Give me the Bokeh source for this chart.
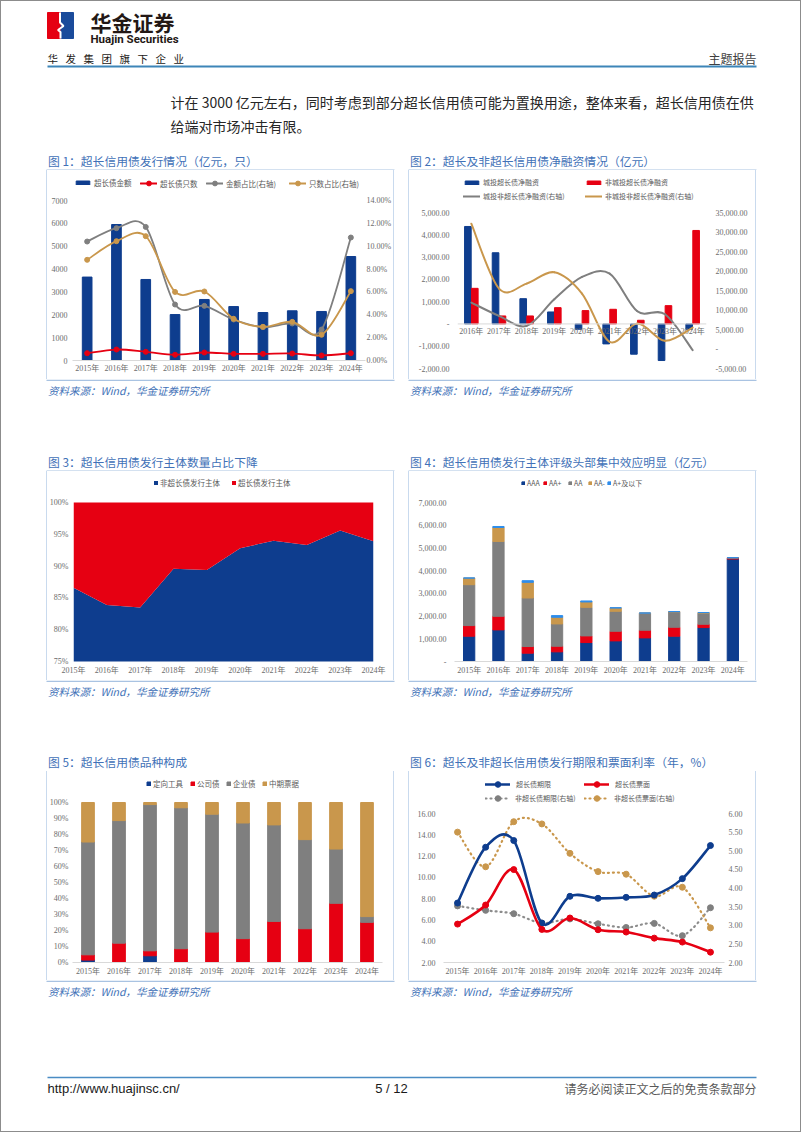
from bokeh.plotting import figure
from bokeh.models import (Range1d, LinearAxis, FixedTicker, PrintfTickFormatter, Span,
                          NumeralTickFormatter, Legend, LegendItem, ColumnDataSource, Spacer)
from bokeh.layouts import column, row
from bokeh.core.properties import value
from bokeh.embed import file_html
from bokeh.resources import INLINE

# ---------------- data ----------------
years = ["2015年", "2016年", "2017年", "2018年", "2019年", "2020年", "2021年", "2022年", "2023年", "2024年"]
years_c2 = ["2016年", "2017年", "2018年", "2019年", "2020年", "2021年", "2022年", "2023年", "2024年"]

# chart 1
c1_amount = [3650, 5950, 3545, 2010, 2670, 2360, 2100, 2175, 2145, 4550]
c1_count = [320, 480, 380, 250, 350, 290, 290, 305, 220, 320]
c1_amt_share = [10.41, 11.58, 11.69, 4.90, 4.78, 3.59, 2.92, 3.24, 2.71, 10.76]
c1_cnt_share = [8.81, 10.44, 10.88, 6.00, 6.04, 3.65, 2.95, 3.38, 2.25, 6.07]

# chart 2
c2_lgfv_long = [4373, 3194, 1134, 537, -239, -896, -1358, -1642, -239]
c2_non_lgfv_long = [1597, 358, 358, 731, 597, 657, 164, 821, 4194]
c2_lgfv_short = [11900, 8490, 5930, 12760, 18470, 19330, 9680, 8920, -300]
c2_non_lgfv_short = [32120, 15490, 16770, 19670, 14210, 1830, 6530, 2090, 5500]

# chart 3 (share of issuers, %)
c3_non_long = [86.6, 83.9, 83.5, 89.6, 89.4, 92.8, 94.0, 93.3, 95.6, 93.9]
c3_long = [13.4, 16.1, 16.5, 10.4, 10.6, 7.2, 6.0, 6.7, 4.4, 6.1]

# chart 4 (rating, 亿元)
c4_aaa = [1113, 1391, 366, 425, 834, 908, 1040, 1113, 1493, 4510]
c4_aap = [468, 600, 293, 248, 293, 424, 336, 395, 147, 50]
c4_aa = [1801, 3295, 2137, 981, 1259, 879, 747, 674, 483, 8]
c4_aam = [293, 614, 689, 293, 235, 146, 10, 14, 29, 0]
c4_ap = [0, 44, 73, 73, 44, 10, 0, 0, 0, 0]

# chart 5 (type share, %)
c5_ppn = [1.5, 0, 4.2, 0, 0, 0, 0, 0, 0, 0]
c5_corp = [3.3, 12.1, 3.1, 8.6, 19.0, 14.9, 25.7, 21.1, 37.0, 25.1]
c5_ent = [70.5, 76.6, 91.4, 88.1, 73.7, 72.3, 60.3, 55.7, 33.9, 3.6]
c5_mtn = [24.7, 11.3, 1.3, 3.3, 7.3, 12.8, 14.0, 23.2, 29.1, 71.3]

# chart 6
c6_long_tenor = [7.59, 12.83, 13.46, 5.70, 8.22, 8.03, 8.12, 8.34, 9.88, 12.99]
c6_long_coupon = [5.61, 7.40, 10.73, 5.11, 6.18, 5.08, 4.86, 4.29, 3.92, 2.97]
c6_short_tenor = [3.52, 3.40, 3.31, 3.06, 3.17, 3.04, 2.94, 3.05, 2.72, 3.47]
c6_short_coupon = [5.50, 4.57, 5.78, 5.72, 4.93, 4.44, 4.37, 3.78, 4.02, 2.93]

titles = ["图 1：超长信用债发行情况（亿元，只）",
          "图 2：超长及非超长信用债净融资情况（亿元）",
          "图 3：超长信用债发行主体数量占比下降",
          "图 4：超长信用债发行主体评级头部集中效应明显（亿元）",
          "图 5：超长信用债品种构成",
          "图 6：超长及非超长信用债发行期限和票面利率（年，%）"]
SOURCE = "资料来源：Wind，华金证券研究所"

# ---------------- styles ----------------
CJK = "Noto Sans CJK SC"
TICKF = "Liberation Serif, Noto Sans CJK SC"
NAVY = "#0E3D8E"
RED = "#E60012"
GRAY = "#7F7F7F"
GOLD = "#C9974C"
LBLUE = "#2E8DEB"
TITLE_BLUE = "#4171B7"
BOX = "#A9C3E2"
BOX_SIDE = "#C9DAEE"
TICK_COLOR = "#6B6B6B"
LEG_COLOR = "#595959"
PW, PH = 348, 209
PAGE_W = 801
LX, RX = 46, 408


def strip(h, y0):
    p = figure(width=PAGE_W, height=h, x_range=Range1d(0, PAGE_W), y_range=Range1d(y0 + h, y0),
               x_axis_type=None, y_axis_type=None, output_backend="svg", toolbar_location=None,
               min_border=0, outline_line_color=None, border_fill_color=None,
               background_fill_color=None)
    return p


def txt(p, x, y, s, size, color, font=CJK, align="left", style="normal"):
    p.text(x=[x], y=[y], text=[s], text_font=value(font), text_font_size=size,
           text_color=color, text_align=align, text_baseline="middle", text_font_style=style)


def titles_row(p, y, tl, tr):
    for x0, t in ((LX, tl), (RX, tr)):
        txt(p, x0 + 1.5, y, t, "11.8px", TITLE_BLUE)
        p.line([x0, x0 + PW], [y + 10.2, y + 10.2], line_color=BOX, line_width=1.6)


def sources_row(p, yline):
    for x0 in (LX, RX):
        p.line([x0, x0 + PW], [yline + 0.8, yline + 0.8], line_color=BOX, line_width=1.6)
        txt(p, x0 + 1.5, yline + 10.5, SOURCE, "10.5px", TITLE_BLUE, style="italic")


def ext(lo, hi, mt, mb):
    fh = PH - mt - mb
    return (lo, hi + (hi - lo) * (mt - 1.0) / fh)


def make_chart(xr, yr, ml, mr, mt, mb, xaxis=True):
    kw = {} if xaxis else {"x_axis_location": None}
    p = figure(width=PW, height=PH, x_range=Range1d(*xr), y_range=Range1d(*ext(yr[0], yr[1], mt, mb)),
               output_backend="svg", toolbar_location=None,
               min_border_left=ml, min_border_right=mr, min_border_top=1, min_border_bottom=mb,
               border_fill_color=None, background_fill_color=None, outline_line_color=None,
               styles={"box-shadow": "inset 1px 0 0 %s, inset -1px 0 0 %s" % (BOX_SIDE, BOX_SIDE)},
               **kw)
    p.grid.visible = False
    return p


def style_axis(ax, standoff, line=False):
    ax.major_tick_line_color = None
    ax.minor_tick_line_color = None
    ax.major_tick_out = 0
    ax.major_tick_in = 0
    ax.minor_tick_out = 0
    ax.minor_tick_in = 0
    ax.axis_line_color = "#D9D9D9" if line else None
    ax.major_label_text_font = TICKF
    ax.major_label_text_font_size = "8px"
    ax.major_label_text_color = TICK_COLOR
    ax.major_label_standoff = standoff


def x_cat_axis(p, labels, standoff, line=True):
    ax = p.xaxis[0]
    ax.ticker = FixedTicker(ticks=list(range(len(labels))), minor_ticks=[])
    ax.major_label_overrides = {i: lab for i, lab in enumerate(labels)}
    style_axis(ax, standoff, line)
    return ax


def smooth(p, xs, ys, color, width, dash="solid", rn="default"):
    n = len(xs)
    d = dict(x0=[], y0=[], x1=[], y1=[], cx0=[], cy0=[], cx1=[], cy1=[])
    for i in range(n - 1):
        xp, yp = (xs[i - 1], ys[i - 1]) if i > 0 else (xs[i], ys[i])
        xn, yn = (xs[i + 2], ys[i + 2]) if i + 2 < n else (xs[i + 1], ys[i + 1])
        d["x0"].append(xs[i]); d["y0"].append(ys[i])
        d["x1"].append(xs[i + 1]); d["y1"].append(ys[i + 1])
        d["cx0"].append(xs[i] + (xs[i + 1] - xp) / 6.0)
        d["cy0"].append(ys[i] + (ys[i + 1] - yp) / 6.0)
        d["cx1"].append(xs[i + 1] - (xn - xs[i]) / 6.0)
        d["cy1"].append(ys[i + 1] - (yn - ys[i]) / 6.0)
    return p.bezier(x0="x0", y0="y0", x1="x1", y1="y1", cx0="cx0", cy0="cy0", cx1="cx1", cy1="cy1",
                    source=ColumnDataSource(d), line_color=color, line_width=width,
                    line_dash=dash, line_cap="round", y_range_name=rn)


def leg(p, label, renderers, px, py, fl, fb, gw, gh, fs="7.5px", standoff=3):
    lh = max(gh, 10)
    lg = Legend(items=[LegendItem(label=label, renderers=renderers)],
                location=(px - fl, fb - py - lh / 2.0), orientation="horizontal",
                glyph_width=gw, glyph_height=gh, label_standoff=standoff, label_height=gh, label_width=6,
                padding=0, margin=0, spacing=0, border_line_color=None, background_fill_alpha=0,
                label_text_font=CJK, label_text_font_size=fs, label_text_color=LEG_COLOR)
    p.add_layout(lg)


x10 = list(range(10))
x9 = list(range(9))

# ---------------- chart 1 ----------------
M1 = (26, 28, 30, 19)
p1 = make_chart((-0.5, 9.5), (0, 7000), *M1)
p1.extra_y_ranges = {"r": Range1d(*ext(0, 14, M1[2], M1[3]))}
b1 = p1.vbar(x=x10, top=c1_amount, width=0.33, color=NAVY)
l1a = smooth(p1, x10, c1_count, RED, 1.8)
s1a = p1.scatter(x10, c1_count, size=5, color=RED)
l1b = smooth(p1, x10, c1_amt_share, GRAY, 1.8, rn="r")
s1b = p1.scatter(x10, c1_amt_share, size=5, color=GRAY, y_range_name="r")
l1c = smooth(p1, x10, c1_cnt_share, GOLD, 1.8, rn="r")
s1c = p1.scatter(x10, c1_cnt_share, size=5, color=GOLD, y_range_name="r")
x_cat_axis(p1, years, 3)
ya = p1.yaxis[0]
ya.ticker = FixedTicker(ticks=list(range(0, 7001, 1000)), minor_ticks=[])
ya.formatter = NumeralTickFormatter(format="0")
style_axis(ya, 5)
ra = LinearAxis(y_range_name="r", ticker=FixedTicker(ticks=list(range(0, 15, 2)), minor_ticks=[]),
                formatter=PrintfTickFormatter(format="%.2f%%"))
style_axis(ra, 1)
p1.add_layout(ra, "right")
FL, FB = 72, 360
leg(p1, "超长债金额", [b1], 74, 183, FL, FB, 17, 5)
leg(p1, "超长债只数", [l1a, s1a], 140, 183, FL, FB, 17, 12)
leg(p1, "金额占比(右轴)", [l1b, s1b], 206, 183, FL, FB, 17, 12)
leg(p1, "只数占比(右轴)", [l1c, s1c], 289, 183, FL, FB, 17, 12)

# ---------------- chart 2 ----------------
M2 = (49, 50, 42, 11)
p2 = make_chart((-0.5, 8.5), (-2000, 5000), *M2, xaxis=False)
p2.extra_y_ranges = {"r": Range1d(*ext(-5000, 35000, M2[2], M2[3]))}
p2.add_layout(Span(location=0, dimension="width", line_color="#D9D9D9", line_width=1))
b2a = p2.vbar(x=[i - 0.125 for i in x9], top=c2_lgfv_long, width=0.24, color=NAVY)
b2b = p2.vbar(x=[i + 0.125 for i in x9], top=c2_non_lgfv_long, width=0.24, color=RED)
p2.text(x=x9, y=[0] * len(x9), text=years_c2, text_font=value(TICKF), text_font_size="8px",
        text_color=TICK_COLOR, text_align="center", text_baseline="top", y_offset=3)
l2a = smooth(p2, x9, c2_lgfv_short, GRAY, 2, rn="r")
l2b = smooth(p2, x9, c2_non_lgfv_short, GOLD, 2, rn="r")
ya = p2.yaxis[0]
ya.ticker = FixedTicker(ticks=list(range(-2000, 5001, 1000)), minor_ticks=[])
ya.formatter = NumeralTickFormatter(format="0,0.00")
ya.major_label_overrides = {0: "-"}
style_axis(ya, 8)
ra = LinearAxis(y_range_name="r", ticker=FixedTicker(ticks=list(range(-5000, 35001, 5000)), minor_ticks=[]),
                formatter=NumeralTickFormatter(format="0,0.00"))
ra.major_label_overrides = {0: "-"}
style_axis(ra, 9)
p2.add_layout(ra, "right")
FL, FB = 457, 368
leg(p2, "城投超长债净融资", [b2a], 463, 182, FL, FB, 17, 5, fs="7px")
leg(p2, "非城投超长债净融资", [b2b], 585, 182, FL, FB, 17, 5, fs="7px")
leg(p2, "城投非超长债净融资(右轴)", [l2a], 463, 196, FL, FB, 17, 10, fs="7px")
leg(p2, "非城投非超长债净融资(右轴)", [l2b], 585, 196, FL, FB, 17, 10, fs="7px")

# ---------------- chart 3 ----------------
M3 = (26, 21, 31, 19)
p3 = make_chart((0, 9), (75, 100), *M3)
src3 = ColumnDataSource(dict(x=x10, non=c3_non_long, long=c3_long))
r3 = p3.varea_stack(["non", "long"], x="x", color=[NAVY, RED], source=src3)
x_cat_axis(p3, years, 4, line=False)
ya = p3.yaxis[0]
ya.ticker = FixedTicker(ticks=list(range(75, 101, 5)), minor_ticks=[])
ya.formatter = PrintfTickFormatter(format="%d%%")
style_axis(ya, 5)
FL, FB = 72, 661
leg(p3, "非超长债发行主体", [r3[0]], 152, 483, FL, FB, 5, 5, standoff=2)
leg(p3, "超长债发行主体", [r3[1]], 230, 483, FL, FB, 5, 5, standoff=2)

# ---------------- chart 4 ----------------
M4 = (46, 9, 31, 19)
p4 = make_chart((-0.5, 9.5), (0, 7000), *M4)
src4 = ColumnDataSource(dict(x=x10, aaa=c4_aaa, aap=c4_aap, aa=c4_aa, aam=c4_aam, ap=c4_ap))
r4 = p4.vbar_stack(["aaa", "aap", "aa", "aam", "ap"], x="x", width=0.385,
                   color=[NAVY, RED, GRAY, GOLD, LBLUE], source=src4)
x_cat_axis(p4, years, 4)
ya = p4.yaxis[0]
ya.ticker = FixedTicker(ticks=list(range(0, 7001, 1000)), minor_ticks=[])
ya.formatter = NumeralTickFormatter(format="0,0.00")
ya.major_label_overrides = {0: "-"}
style_axis(ya, 8)
FL, FB = 454, 661
for lab, r, px in zip(["AAA", "AA+", "AA", "AA-", "A+及以下"], r4, [521, 543, 568, 588, 607]):
    leg(p4, lab, [r], px, 483, FL, FB, 4, 4, fs="7px", standoff=2)

# ---------------- chart 5 ----------------
M5 = (25, 12, 31, 18)
p5 = make_chart((-0.5, 9.5), (0, 100), *M5)
src5 = ColumnDataSource(dict(x=x10, ppn=c5_ppn, corp=c5_corp, ent=c5_ent, mtn=c5_mtn))
r5 = p5.vbar_stack(["ppn", "corp", "ent", "mtn"], x="x", width=0.41,
                   color=[NAVY, RED, GRAY, GOLD], source=src5)
x_cat_axis(p5, years, 4)
ya = p5.yaxis[0]
ya.ticker = FixedTicker(ticks=list(range(0, 101, 10)), minor_ticks=[])
ya.formatter = PrintfTickFormatter(format="%d%%")
style_axis(ya, 4)
FL, FB = 71, 962
for lab, r, px in zip(["定向工具", "公司债", "企业债", "中期票据"], r5, [145, 189, 225, 261]):
    leg(p5, lab, [r], px, 784, FL, FB, 5, 5, standoff=2)

# ---------------- chart 6 ----------------
M6 = (35, 32, 42, 18)
p6 = make_chart((-0.5, 9.5), (2, 16), *M6)
p6.extra_y_ranges = {"r": Range1d(*ext(2, 6, M6[2], M6[3]))}
l6c = smooth(p6, x10, c6_short_tenor, "#8C8C8C", 2.2, dash="1 4", rn="r")
s6c = p6.scatter(x10, c6_short_tenor, size=6, color=GRAY, y_range_name="r")
l6d = smooth(p6, x10, c6_short_coupon, GOLD, 2.2, dash="1 4", rn="r")
s6d = p6.scatter(x10, c6_short_coupon, size=6, color=GOLD, y_range_name="r")
l6a = smooth(p6, x10, c6_long_tenor, NAVY, 2.6)
s6a = p6.scatter(x10, c6_long_tenor, size=6, color=NAVY)
l6b = smooth(p6, x10, c6_long_coupon, RED, 2.6)
s6b = p6.scatter(x10, c6_long_coupon, size=6, color=RED)
x_cat_axis(p6, years, 4)
ya = p6.yaxis[0]
ya.ticker = FixedTicker(ticks=list(range(2, 17, 2)), minor_ticks=[])
ya.formatter = NumeralTickFormatter(format="0.00")
style_axis(ya, 8)
ra = LinearAxis(y_range_name="r", ticker=FixedTicker(ticks=[2, 2.5, 3, 3.5, 4, 4.5, 5, 5.5, 6], minor_ticks=[]),
                formatter=NumeralTickFormatter(format="0.00"))
style_axis(ra, 4)
p6.add_layout(ra, "right")
FL, FB = 443, 962
leg(p6, "超长债期限", [l6a, s6a], 485, 784, FL, FB, 25, 14, fs="7px", standoff=6)
leg(p6, "超长债票面", [l6b, s6b], 584, 784, FL, FB, 25, 14, fs="7px", standoff=6)
leg(p6, "非超长债期限(右轴)", [l6c, s6c], 485, 798, FL, FB, 25, 14, fs="7px", standoff=5)
leg(p6, "非超长债票面(右轴)", [l6d, s6d], 584, 798, FL, FB, 25, 14, fs="7px", standoff=5)

# ---------------- top strip (header + row-1 titles) ----------------
hd = strip(170, 0)
hd.quad(left=[47], right=[60], top=[12], bottom=[38], color="#E50012")
hd.quad(left=[60.5], right=[73], top=[12], bottom=[38], color="#1B4B9B")
hd.line([59.5, 59.5, 63, 57.5, 60, 60], [12, 22, 25.5, 29.5, 31.5, 38], line_color="white", line_width=2)
txt(hd, 90, 21, "华金证券", "21px", "#231815", style="bold")
txt(hd, 90, 38.5, "Huajin Securities", "11.5px", "#231815", font="Roboto", style="bold")
for i, ch in enumerate("华发集团旗下企业"):
    txt(hd, 47 + i * 18.0, 58, ch, "10.5px", "#231815")
txt(hd, 756, 57.5, "主题报告", "12px", "#404040", align="right")
hd.line([47, 756], [66, 66], line_color="#3D85B8", line_width=2)
txt(hd, 170, 101, "计在 3000 亿元左右，同时考虑到部分超长信用债可能为置换用途，整体来看，超长信用债在供",
    "14px", "#262626")
txt(hd, 170, 125.5, "给端对市场冲击有限。", "14px", "#262626")
titles_row(hd, 159.5, titles[0], titles[1])

# ---------------- middle strips ----------------
m1 = strip(92, 379)
sources_row(m1, 379)
titles_row(m1, 460.5, titles[2], titles[3])

m2 = strip(91, 680)
sources_row(m2, 680)
titles_row(m2, 761, titles[4], titles[5])

# ---------------- bottom strip (sources row 3 + footer) ----------------
ft = strip(152, 980)
sources_row(ft, 980)
ft.line([47, 756], [1077, 1077], line_color="#4A8CC4", line_width=1.5)
txt(ft, 47, 1087.5, "http://www.huajinsc.cn/", "13px", "#1A1A1A", font="Liberation Sans Narrow, Liberation Sans")
txt(ft, 391, 1087.5, "5 / 12", "13px", "#1A1A1A", font="Liberation Sans Narrow, Liberation Sans", align="center")
txt(ft, 756, 1087.5, "请务必阅读正文之后的免责条款部分", "12px", "#595959", align="right")


def chart_row(cl, cr):
    # each chart wrapped in its own column so that the row does not align their frames
    return row(Spacer(width=LX, height=PH), column(cl, spacing=0),
               Spacer(width=RX - LX - PW, height=PH), column(cr, spacing=0), spacing=0)


page = column(hd, chart_row(p1, p2), m1, chart_row(p3, p4), m2, chart_row(p5, p6), ft, spacing=0,
              styles={"outline": "1px solid #8C8C8C", "outline-offset": "-1px"})

open("out.html", "w").write(file_html(page, INLINE))
